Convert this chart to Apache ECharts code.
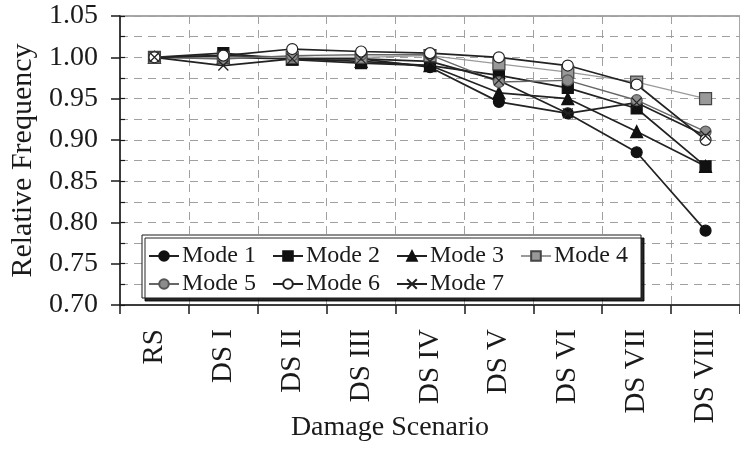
<!DOCTYPE html>
<html>
<head>
<meta charset="utf-8">
<script src="https://cdn.jsdelivr.net/npm/echarts@6/dist/echarts.min.js"></script>
<style>html,body{margin:0;padding:0;background:#fff;}#c{width:740px;height:450px;}</style>
</head>
<body>
<div id="c"></div>
<script>
const categories = ['RS', 'DS I', 'DS II', 'DS III', 'DS IV', 'DS V', 'DS VI', 'DS VII', 'DS VIII'];
const mode1 = [1.000, 1.002, 1.000, 0.998, 0.988, 0.946, 0.932, 0.885, 0.790];
const mode2 = [1.000, 1.005, 0.997, 0.993, 0.990, 0.978, 0.963, 0.938, 0.868];
const mode3 = [1.000, 1.000, 0.998, 0.995, 0.990, 0.957, 0.950, 0.910, 0.868];
const mode4 = [1.000, 1.000, 1.000, 1.000, 1.002, 0.992, 0.982, 0.970, 0.950];
const mode5 = [1.000, 0.998, 1.002, 1.003, 1.003, 0.970, 0.972, 0.948, 0.910];
const mode6 = [1.000, 1.002, 1.010, 1.007, 1.005, 1.000, 0.990, 0.967, 0.900];
const mode7 = [1.000, 0.990, 0.998, 0.998, 0.995, 0.972, 0.932, 0.945, 0.905];
const yTicks = [0.70, 0.75, 0.80, 0.85, 0.90, 0.95, 1.00, 1.05];

const FONT = '"Liberation Serif", "Times New Roman", serif';
const INK = '#1a1a1a';
const chart = echarts.init(document.getElementById('c'), null, {renderer: 'canvas'});

function mk(name, data, symbol, size, fill, stroke, lineColor, lineWidth, z) {
  return {
    name: name, type: 'line', data: data, symbol: symbol, symbolSize: size,
    showAllSymbol: true, z: z || 2,
    lineStyle: {color: lineColor, width: lineWidth},
    itemStyle: {color: fill, borderColor: stroke, borderWidth: 1.2},
    emphasis: {disabled: true}, animation: false
  };
}
const crossPath = 'path://M0,0L10,10M10,0L0,10';

chart.setOption({
  animation: false,
  backgroundColor: '#fff',
  grid: {left: 117, top: 16, width: 628, height: 289, show: true, borderColor: '#8a8a8a', borderWidth: 1.5, backgroundColor: 'transparent'},
  xAxis: {
    type: 'category', data: categories, boundaryGap: true,
    axisLine: {lineStyle: {color: INK, width: 1.5}},
    axisTick: {show: true, length: 9, lineStyle: {color: INK, width: 1.5}},
    axisLabel: {rotate: 90, margin: 24, color: INK, fontFamily: FONT, fontSize: 29},
    splitLine: {show: true, lineStyle: {color: '#a0a0a0', type: [8, 6], width: 1}}
  },
  yAxis: [{
    type: 'value', min: yTicks[0], max: yTicks[yTicks.length - 1], interval: 0.05,
    axisLine: {show: true, lineStyle: {color: INK, width: 1.5}},
    axisTick: {show: true, length: 9, lineStyle: {color: INK, width: 1.5}},
    axisLabel: {margin: 22, color: INK, fontFamily: FONT, fontSize: 28, formatter: v => v.toFixed(2)},
    splitLine: {show: true, lineStyle: {color: '#a0a0a0', type: [8, 6], width: 1}},
    minorSplitLine: {show: true, lineStyle: {color: '#a0a0a0', type: [8, 6], width: 1}},
    minorTick: {show: false, splitNumber: 2},
    name: 'Relative Frequency', nameLocation: 'middle', nameGap: 82,
    nameTextStyle: {color: INK, fontFamily: FONT, fontSize: 30}
  }, {
    type: 'value', position: 'left', min: yTicks[0], max: yTicks[yTicks.length - 1], interval: 0.025,
    axisLine: {show: false}, axisLabel: {show: false}, splitLine: {show: false},
    axisTick: {show: true, inside: true, length: 5, lineStyle: {color: INK, width: 1.2}}
  }],
  graphic: [
    {type: 'rect', shape: {x: 142, y: 235, width: 499, height: 63}, z: 5,
     style: {fill: '#fff', stroke: INK, lineWidth: 1, shadowColor: 'rgba(0,0,0,0.85)', shadowOffsetX: 3, shadowOffsetY: 3, shadowBlur: 0}},
    {type: 'text', x: 390, y: 428, z: 5,
     style: {text: 'Damage Scenario', fill: INK, font: '28px ' + FONT, textAlign: 'center', textVerticalAlign: 'middle'}}
  ],
  legend: [{
    data: ['Mode 1', 'Mode 2', 'Mode 3', 'Mode 4'], left: 148, top: 244, z: 10,
    itemWidth: 30, itemHeight: 12, itemGap: 16, padding: 0,
    textStyle: {color: INK, fontFamily: FONT, fontSize: 24, padding: [0, 0, 0, -2]}
  }, {
    data: ['Mode 5', 'Mode 6', 'Mode 7'], left: 148, top: 272, z: 10,
    itemWidth: 30, itemHeight: 12, itemGap: 16, padding: 0,
    textStyle: {color: INK, fontFamily: FONT, fontSize: 24, padding: [0, 0, 0, -2]}
  }],
  series: [
    mk('Mode 1', mode1, 'circle', 11, '#111', '#111', '#222', 1.7),
    mk('Mode 2', mode2, 'rect', 11, '#111', '#111', '#222', 1.7, 3),
    mk('Mode 3', mode3, 'triangle', 12, '#111', '#111', '#222', 1.7),
    mk('Mode 4', mode4, 'rect', 12, '#999', '#444', '#9a9a9a', 1.3, 4),
    mk('Mode 5', mode5, 'circle', 11, '#8c8c8c', '#555', '#666', 1.4, 4),
    mk('Mode 6', mode6, 'circle', 11, '#fff', '#222', '#222', 1.7, 4),
    mk('Mode 7', mode7, crossPath, 10, 'none', '#222', '#222', 1.7, 4)
  ]
});
</script>
</body>
</html>
